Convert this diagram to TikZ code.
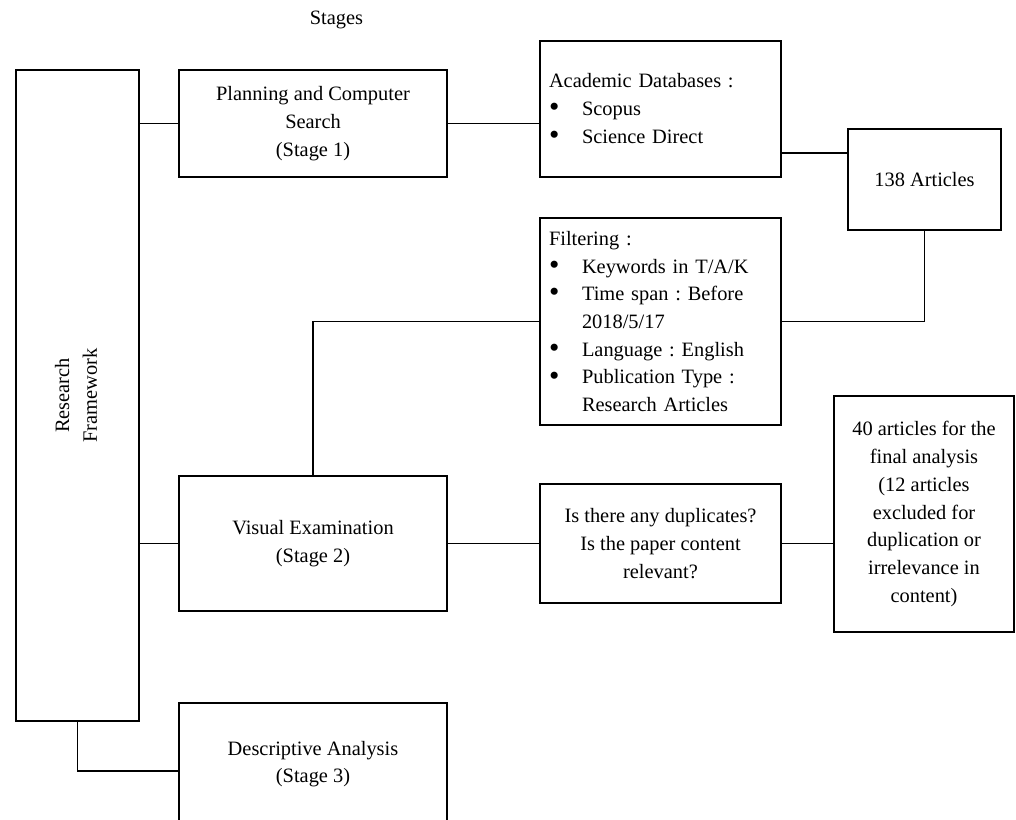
\documentclass[tikz,border=0pt]{standalone}
\usepackage{fontspec}
\setmainfont{Liberation Serif}
\frenchspacing
\newcommand{\fs}{\fontsize{15.3}{20.8}\selectfont\frenchspacing}
\newcommand{\bul}{\makebox[24.75pt][l]{\raisebox{-0.8pt}{\scalebox{1.45}{\textbullet}}}}
\newcommand{\ind}{\hspace*{24.75pt}}
\tikzset{
  box/.style={draw, line width=0.8pt, inner sep=0pt, align=center, font=\fs},
  lbox/.style={draw, line width=0.8pt, inner xsep=6.75pt, inner ysep=0pt, align=left, font=\fs, text width=167.25pt},
  conn/.style={line width=0.8pt},
}
\begin{document}
\begin{tikzpicture}[x=0.75pt,y=-0.75pt]
\useasboundingbox (0,0) rectangle (1016,819);
\clip (0,0) rectangle (1016,819);
\node[font=\fs] (stg) at (336.5,20) {Stages};
\node[box, minimum width=92.25pt, minimum height=488.25pt] (rf) at (77.5,395.5)
  {\rotatebox{90}{\begin{tabular}{@{}c@{}}Research\\Framework\end{tabular}}};
\node[box, minimum width=201pt, minimum height=80.25pt] (plan) at (313,123.5)
  {Planning and Computer\\Search\\(Stage 1)};
\node[lbox, minimum height=102pt] (acad) at (660.5,109)
  {Academic Databases :\\\bul Scopus\\\bul Science Direct};
\node[box, minimum width=114.75pt, minimum height=75.75pt] (a138) at (924.5,179.5)
  {138 Articles};
\node[lbox, minimum height=155.25pt] (filt) at (660.5,321.5)
  {Filtering :\\\bul Keywords in T/A/K\\\bul Time span : Before\\\ind 2018/5/17\\\bul Language : English\\\bul Publication Type :\\\ind Research Articles};
\node[box, minimum width=201pt, minimum height=101.25pt] (vis) at (313,543.5)
  {Visual Examination\\(Stage 2)};
\node[box, minimum width=180.75pt, minimum height=89.25pt] (dup) at (660.5,543.5)
  {Is there any duplicates?\\Is the paper content\\relevant?};
\node[box, minimum width=135pt, minimum height=177pt] (forty) at (924,514)
  {40 articles for the\\final analysis\\(12 articles\\excluded for\\duplication or\\irrelevance in\\content)};
\node[box, minimum width=201pt, minimum height=91.5pt] (desc) at (313,764)
  {Descriptive Analysis\\(Stage 3)};
\coordinate (c153) at (0,153);
\draw[conn] (rf.east |- plan.west) -- (plan.west);
\draw[conn] (plan.east) -- (plan.east -| acad.west);
\draw[conn] (acad.east |- c153) -- (a138.west |- c153);
\draw[conn] (a138.south) |- (filt.east);
\draw[conn] (filt.west) -| (vis.north);
\draw[conn] (rf.east |- vis.west) -- (vis.west);
\draw[conn] (vis.east) -- (dup.west);
\draw[conn] (dup.east) -- (dup.east -| forty.west);
\draw[conn] (rf.south) |- ([yshift=-5.25pt]desc.west);
\end{tikzpicture}
\end{document}
